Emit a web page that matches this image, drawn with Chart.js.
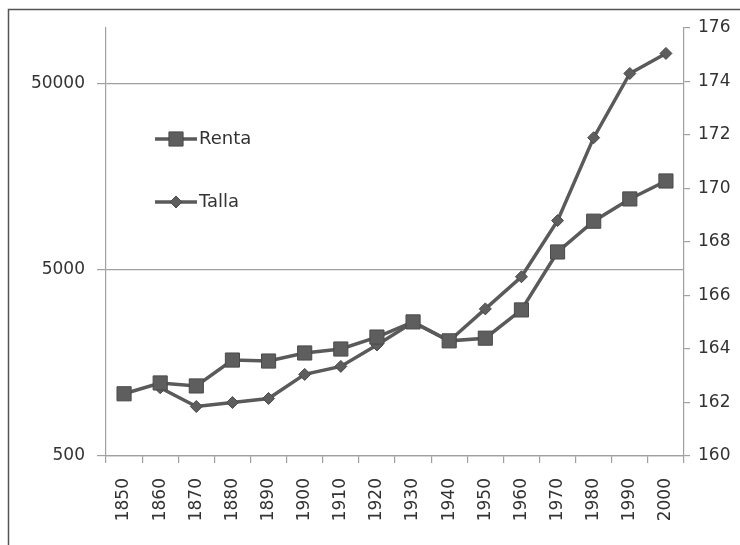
<!DOCTYPE html>
<html>
<head>
<meta charset="utf-8">
<script src="https://cdn.jsdelivr.net/npm/chart.js@4"></script>
<style>
html,body{margin:0;padding:0;background:#fff;}
#wrap{position:relative;width:740px;height:545px;}
</style>
</head>
<body>
<div id="wrap"><canvas id="c" width="740" height="545"></canvas></div>
<script>
const years = ['1850','1860','1870','1880','1890','1900','1910','1920','1930','1940','1950','1960','1970','1980','1990','2000'];
const renta = [1080, 1235, 1190, 1640, 1620, 1790, 1880, 2180, 2630, 2080, 2150, 3050, 6250, 9150, 12050, 15050];
const talla = [null, 162.55, 161.85, 162.0, 162.15, 163.05, 163.35, 164.15, 165.0, 164.3, 165.5, 166.7, 168.8, 171.9, 174.3, 175.05];
const leftTicks = [500, 5000, 50000];
const rightTicks = [160, 162, 164, 166, 168, 170, 172, 174, 176];

const FONT = {family: "'DejaVu Sans', sans-serif", size: 17};
const TXT = '#333';
const LINE = '#5a5a5a';
const GRID = '#a0a0a0';

const framePlugin = {
  id: 'frame',
  beforeDraw(chart) {
    const ctx = chart.ctx;
    ctx.save();
    ctx.strokeStyle = '#555';
    ctx.lineWidth = 1.5;
    ctx.beginPath();
    ctx.moveTo(8.5, 545);
    ctx.lineTo(8.5, 9.5);
    ctx.lineTo(740, 9.5);
    ctx.stroke();
    ctx.restore();
  }
};

const legendPlugin = {
  id: 'inlegend',
  afterDraw(chart) {
    const ctx = chart.ctx;
    const items = [
      {label: chart.data.datasets[0].label, y: 139, style: 'rect', r: 10},
      {label: chart.data.datasets[1].label, y: 202, style: 'rectRot', r: 6}
    ];
    ctx.save();
    items.forEach(it => {
      ctx.strokeStyle = LINE;
      ctx.lineWidth = 3.5;
      ctx.beginPath();
      ctx.moveTo(155, it.y);
      ctx.lineTo(197, it.y);
      ctx.stroke();
      ctx.fillStyle = '#5e5e5e';
      ctx.strokeStyle = '#4a4a4a';
      ctx.lineWidth = 1;
      Chart.helpers.drawPoint(ctx, {pointStyle: it.style, radius: it.r, borderWidth: 1, rotation: 0}, 176, it.y);
      ctx.fillStyle = TXT;
      ctx.font = "18px 'DejaVu Sans', sans-serif";
      ctx.textBaseline = 'middle';
      ctx.textAlign = 'left';
      ctx.fillText(it.label, 199, it.y);
    });
    ctx.restore();
  }
};

new Chart(document.getElementById('c'), {
  type: 'line',
  data: {
    labels: years,
    datasets: [
      {
        label: 'Renta',
        data: renta,
        yAxisID: 'y',
        borderColor: LINE,
        backgroundColor: LINE,
        borderWidth: 3.5,
        pointStyle: 'rect',
        pointRadius: 10,
        pointBorderWidth: 1,
        pointBackgroundColor: '#5e5e5e',
        pointBorderColor: '#4a4a4a',
        tension: 0,
        order: 0
      },
      {
        label: 'Talla',
        data: talla,
        yAxisID: 'y2',
        borderColor: LINE,
        backgroundColor: LINE,
        borderWidth: 3.5,
        pointStyle: 'rectRot',
        pointRadius: 6,
        pointBorderWidth: 1,
        pointBackgroundColor: '#5e5e5e',
        pointBorderColor: '#4a4a4a',
        tension: 0,
        spanGaps: false,
        order: 1
      }
    ]
  },
  options: {
    responsive: false,
    animation: false,
    layout: {padding: {top: 28, left: 0, right: 0, bottom: 0}},
    plugins: {legend: {display: false}, tooltip: {enabled: false}},
    scales: {
      x: {
        offset: true,
        grid: {offset: true, drawOnChartArea: false, drawTicks: true, tickLength: 7, color: GRID, lineWidth: 1.2},
        border: {color: GRID, width: 1.2},
        ticks: {font: FONT, color: TXT, minRotation: 90, maxRotation: 90, padding: 15, autoSkip: false},
        afterFit(s) { s.height = 89; }
      },
      y: {
        type: 'logarithmic',
        position: 'left',
        min: 500,
        max: 100000,
        afterBuildTicks(s) { s.ticks = leftTicks.map(v => ({value: v, major: true})); },
        grid: {drawOnChartArea: true, drawTicks: true, tickLength: 9, color: GRID, lineWidth: 1.2},
        border: {color: GRID, width: 1.2},
        ticks: {font: FONT, color: TXT, padding: 12, callback: v => String(v)},
        afterFit(s) { s.width = 106; }
      },
      y2: {
        type: 'linear',
        position: 'right',
        min: 160,
        max: 176,
        afterBuildTicks(s) { s.ticks = rightTicks.map(v => ({value: v})); },
        grid: {drawOnChartArea: false, drawTicks: true, tickLength: 6, color: GRID, lineWidth: 1.2},
        border: {color: GRID, width: 1.2},
        ticks: {font: FONT, color: TXT, padding: 8},
        afterFit(s) { s.width = 56; }
      }
    }
  },
  plugins: [framePlugin, legendPlugin]
});
</script>
</body>
</html>
